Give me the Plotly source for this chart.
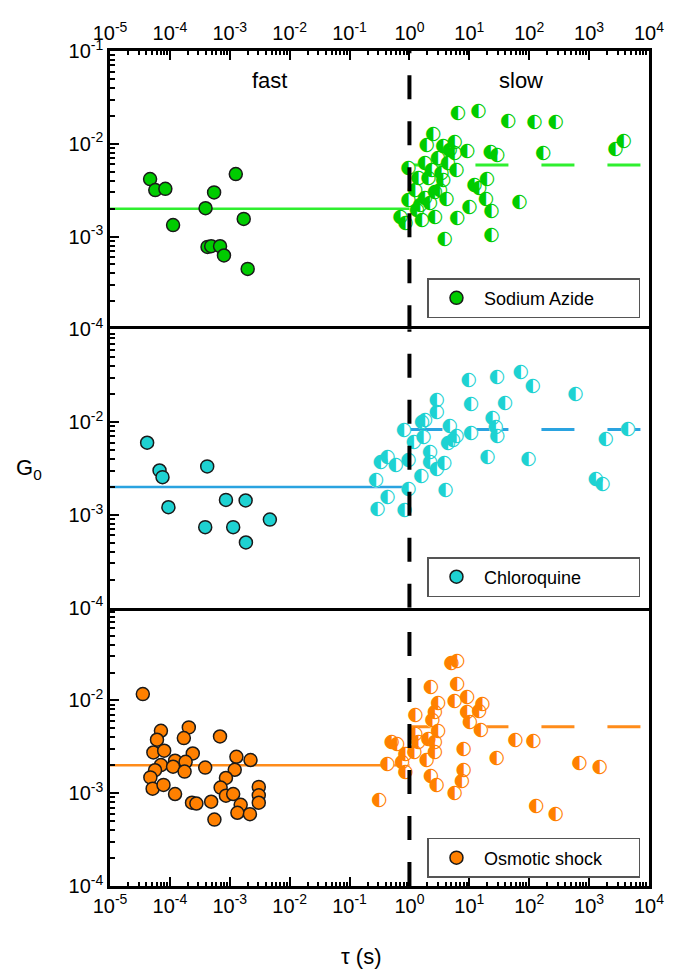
import plotly.graph_objects as go
from plotly.subplots import make_subplots

# ---------------- data ----------------
# Sodium Azide
sa_fast_tau = [4.67e-5, 5.7e-5, 8.4e-5, 1.13e-4, 3.94e-4, 5.47e-4, 1.26e-3, 1.71e-3,
               4.25e-4, 4.89e-4, 6.88e-4, 8.0e-4, 1.99e-3]
sa_fast_g0 = [4.16e-3, 3.17e-3, 3.27e-3, 1.33e-3, 2.02e-3, 2.99e-3, 4.71e-3, 1.55e-3,
              7.74e-4, 7.87e-4, 7.87e-4, 6.25e-4, 4.48e-4]
sa_slow_tau = [6.47, 14.2, 44.6, 122.7, 279, 2.51, 5.71, 3805, 2770, 1.95, 3.67, 5.71,
               9.23, 22.9, 29.4, 172.6, 0.97, 1.83, 2.36, 3.45, 4.43, 6.09, 1.42, 2.08,
               3.67, 12.2, 14.7, 19.7, 0.97, 1.52, 2.21, 2.68, 4.17, 10.1, 19.0, 23.4,
               68.7, 0.71, 0.86, 1.62, 2.68, 6.32, 3.91, 23.4, 1.34, 1.83, 3.0, 4.72,
               1.25, 3.24]
sa_slow_g0 = [0.0216, 0.0225, 0.0173, 0.0172, 0.0170, 0.0127, 0.0105, 0.0107, 8.7e-3,
              9.7e-3, 9.3e-3, 7.9e-3, 8.4e-3, 8.1e-3, 7.55e-3, 8.0e-3, 5.4e-3, 6.15e-3,
              5.2e-3, 4.8e-3, 6.15e-3, 5.2e-3, 4.23e-3, 4.23e-3, 4.06e-3, 3.58e-3,
              3.30e-3, 4.13e-3, 2.47e-3, 2.18e-3, 2.27e-3, 3.03e-3, 2.51e-3, 2.06e-3,
              2.51e-3, 1.89e-3, 2.37e-3, 1.61e-3, 1.38e-3, 1.50e-3, 1.63e-3, 1.59e-3,
              9.4e-4, 1.03e-3, 1.93e-3, 2.58e-3, 7.0e-3, 8.55e-3, 3.16e-3, 3.16e-3]
sa_fast_mean = 2.0e-3
sa_slow_mean = 5.9e-3

# Chloroquine
cq_fast_tau = [4.17e-5, 6.72e-5, 7.53e-5, 9.45e-5, 4.2e-4, 8.63e-4, 1.84e-3, 4.67e-3,
               3.89e-4, 1.14e-3, 1.86e-3]
cq_fast_g0 = [6.0e-3, 3.01e-3, 2.55e-3, 1.21e-3, 3.33e-3, 1.45e-3, 1.43e-3, 8.9e-4,
              7.37e-4, 7.37e-4, 5.04e-4]
cq_slow_tau = [29.1, 72.2, 115, 595, 9.8, 2.85, 10.7, 39.4, 2.85, 24.4, 1.83, 1.62, 0.81,
               4.73, 10.7, 27.7, 29.4, 4480, 1.72, 1.18, 6.09, 5.35, 4.43, 1897, 2.21,
               20.2, 97.8, 0.97, 2.21, 2.85, 3.81, 0.43, 0.333, 0.59, 1.57, 0.276, 0.97,
               4.01, 1298, 1675, 0.43, 0.294, 0.83]
cq_slow_g0 = [0.0303, 0.0344, 0.0243, 0.0202, 0.0282, 0.0171, 0.0155, 0.0158, 0.0128,
              0.0111, 0.0104, 0.0100, 8.1e-3, 9.0e-3, 7.6e-3, 8.7e-3, 7.0e-3, 8.4e-3,
              6.9e-3, 6.1e-3, 7.0e-3, 6.35e-3, 5.85e-3, 6.46e-3, 4.75e-3, 4.13e-3,
              3.93e-3, 3.86e-3, 3.70e-3, 3.14e-3, 3.56e-3, 4.19e-3, 3.70e-3, 3.41e-3,
              2.61e-3, 2.35e-3, 1.91e-3, 1.83e-3, 2.43e-3, 2.13e-3, 1.53e-3, 1.16e-3,
              1.13e-3]
cq_fast_mean = 2.0e-3
cq_slow_mean = 8.3e-3

# Osmotic shock
os_fast_tau = [3.53e-5, 7.09e-5, 2.07e-4, 6.09e-5, 1.71e-4, 6.87e-4, 5.3e-5, 8.03e-5,
               2.41e-4, 1.22e-4, 1.83e-4, 7.09e-5, 1.13e-4, 3.89e-4, 1.29e-3, 2.22e-3,
               5.65e-5, 1.76e-4, 1.21e-3, 4.72e-5, 8.63e-4, 5.15e-5, 7.82e-5, 7.03e-4,
               1.22e-4, 8.63e-4, 1.14e-3, 3.05e-3, 3.05e-3, 3.05e-3, 2.34e-4, 2.77e-4,
               4.89e-4, 1.52e-3, 1.34e-3, 2.17e-3, 5.54e-4]
os_fast_g0 = [0.0117, 4.71e-3, 5.12e-3, 3.77e-3, 3.93e-3, 4.09e-3, 2.75e-3, 2.87e-3,
              2.68e-3, 2.24e-3, 2.18e-3, 2.01e-3, 1.93e-3, 1.89e-3, 2.47e-3, 2.28e-3,
              1.77e-3, 1.71e-3, 1.79e-3, 1.48e-3, 1.46e-3, 1.12e-3, 1.23e-3, 1.15e-3,
              9.8e-4, 9.4e-4, 9.8e-4, 1.17e-3, 9.5e-4, 7.9e-4, 7.9e-4, 7.74e-4,
              8.1e-4, 7.5e-4, 6.15e-4, 5.95e-4, 5.2e-4]
os_slow_tau = [5.04, 6.32, 2.30, 6.32, 3.03, 5.71, 9.23, 16.7, 14.7, 9.23, 2.68, 1.26,
               2.42, 10.3, 15.7, 3.03, 1.26, 2.08, 1.42, 0.506, 0.628, 2.68, 2.68, 0.86,
               1.22, 59.1, 118, 8.12, 28.8, 1.95, 0.76, 0.43, 0.86, 692, 1511, 2.30,
               8.12, 2.85, 7.53, 5.71, 0.313, 131, 279]
os_slow_g0 = [0.0251, 0.0264, 0.0138, 0.0150, 9.3e-3, 9.7e-3, 0.0108, 9.0e-3, 7.74e-3,
              7.55e-3, 7.43e-3, 7.0e-3, 6.04e-3, 5.79e-3, 4.80e-3, 4.71e-3, 4.34e-3,
              3.83e-3, 3.52e-3, 3.52e-3, 3.39e-3, 3.52e-3, 2.75e-3, 2.64e-3, 2.75e-3,
              3.74e-3, 3.61e-3, 2.99e-3, 2.37e-3, 2.28e-3, 2.14e-3, 2.06e-3, 1.67e-3,
              2.09e-3, 1.89e-3, 1.54e-3, 1.77e-3, 1.23e-3, 1.36e-3, 9.9e-4, 8.4e-4,
              7.31e-4, 5.95e-4]
os_fast_mean = 2.0e-3
os_slow_mean = 5.2e-3

# regime boundaries on the tau axis
fast_span = [1e-5, 1.0]
slow_span = [1.0, 1e4]
boundary_tau = 1.0
g0_span = [1e-4, 1e-1]

x_tick_exp = list(range(-5, 5))
y_tick_exp = [-4, -3, -2, -1]

# ---------------- figure ----------------
FONT = "Liberation Sans, Arial, sans-serif"
fig = make_subplots(rows=3, cols=1, shared_xaxes=True, vertical_spacing=0)

panels = [
    dict(name="Sodium Azide", ft=sa_fast_tau, fg=sa_fast_g0, st=sa_slow_tau, sg=sa_slow_g0,
         fm=sa_fast_mean, sm=sa_slow_mean, mcolor="#00cc00", lcolor="#2fef2f", legend="legend"),
    dict(name="Chloroquine", ft=cq_fast_tau, fg=cq_fast_g0, st=cq_slow_tau, sg=cq_slow_g0,
         fm=cq_fast_mean, sm=cq_slow_mean, mcolor="#1ed2d2", lcolor="#2aa3e0", legend="legend2"),
    dict(name="Osmotic shock", ft=os_fast_tau, fg=os_fast_g0, st=os_slow_tau, sg=os_slow_g0,
         fm=os_fast_mean, sm=os_slow_mean, mcolor="#ff8000", lcolor="#ff8c1a", legend="legend3"),
]

for row, p in enumerate(panels, start=1):
    # mean level of each regime
    fig.add_trace(go.Scatter(x=fast_span, y=[p["fm"]] * 2, mode="lines",
                             line=dict(color=p["lcolor"], width=2.5),
                             showlegend=False, hoverinfo="skip"), row=row, col=1)
    fig.add_trace(go.Scatter(x=slow_span, y=[p["sm"]] * 2, mode="lines",
                             line=dict(color=p["lcolor"], width=3, dash="33px,33px"),
                             showlegend=False, hoverinfo="skip"), row=row, col=1)
    # slow regime: half-filled circles
    fig.add_trace(go.Scatter(x=p["st"], y=p["sg"], mode="markers+text",
                             marker=dict(symbol="circle", size=14, color="white"),
                             text=["\u25D0"] * len(p["st"]), textposition="middle center",
                             textfont=dict(family="DejaVu Sans", size=19, color=p["mcolor"]),
                             showlegend=False), row=row, col=1)
    # fast regime: filled circles
    fig.add_trace(go.Scatter(x=p["ft"], y=p["fg"], mode="markers", name=p["name"],
                             marker=dict(symbol="circle", size=13, color=p["mcolor"],
                                         line=dict(color="#1a1a1a", width=1.5)),
                             legend=p["legend"], showlegend=True), row=row, col=1)
    # boundary between regimes
    fig.add_trace(go.Scatter(x=[boundary_tau, boundary_tau], y=g0_span, mode="lines",
                             line=dict(color="black", width=4, dash="24px,22px"),
                             showlegend=False, hoverinfo="skip"), row=row, col=1)

x_minor = [m * 10.0 ** e for e in range(-5, 4) for m in range(2, 10)]
y_minor = [m * 10.0 ** e for e in range(-4, -1) for m in range(2, 10)]

x_common = dict(type="log", range=[-5, 4], showline=True, linewidth=2.5, linecolor="black",
                showgrid=False, zeroline=False,
                tickmode="array", tickvals=[10.0 ** e for e in x_tick_exp],
                ticktext=["10<sup>%d</sup>" % e for e in x_tick_exp],
                tickfont=dict(family=FONT, size=20, color="black"))
x_minor_ticks = dict(ticks="inside", ticklen=4, tickwidth=1.5, tickcolor="black",
                     tickmode="array", tickvals=x_minor, showgrid=False)

fig.update_xaxes(**x_common)
# top frame with labels; the inner frame lines come from the middle panel
fig.update_xaxes(row=1, col=1, side="top", mirror=False, showticklabels=True, ticks="inside",
                 ticklen=9, tickwidth=2, tickcolor="black", minor=x_minor_ticks)
fig.update_xaxes(row=2, col=1, mirror=True, showticklabels=False, ticks="")
fig.update_xaxes(row=3, col=1, side="bottom", mirror=False, showticklabels=True,
                 ticks="inside", ticklen=9, tickwidth=2, tickcolor="black",
                 minor=x_minor_ticks)

for row in (1, 2, 3):
    exps = y_tick_exp if row == 1 else y_tick_exp[:-1]
    fig.update_yaxes(row=row, col=1, type="log", range=[-4, -1], showline=True, linewidth=2.5,
                     linecolor="black", mirror=True, showgrid=False, zeroline=False,
                     ticks="inside", ticklen=9, tickwidth=2, tickcolor="black",
                     tickmode="array", tickvals=[10.0 ** e for e in exps],
                     ticktext=["10<sup>%d</sup>" % e for e in exps],
                     tickfont=dict(family=FONT, size=20, color="black"),
                     minor=dict(ticks="inside", ticklen=5, tickwidth=1.5, tickcolor="black",
                                tickmode="array", tickvals=y_minor, showgrid=False))

legend_style = dict(x=0.589, xanchor="left", yanchor="top", bgcolor="white",
                    orientation="h", bordercolor="#555555", borderwidth=1.5,
                    entrywidth=150, entrywidthmode="pixels", itemwidth=45,
                    font=dict(family=FONT, size=18, color="black"))

fig.update_layout(
    width=676, height=970,
    margin=dict(l=110, r=19, t=51, b=84),
    paper_bgcolor="white", plot_bgcolor="white",
    font=dict(family=FONT, color="black"),
    legend=dict(y=0.728, **legend_style),
    legend2=dict(y=0.394, **legend_style),
    legend3=dict(y=0.0575, **legend_style),
    annotations=[
        dict(text="fast", x=0.295, y=0.965, xref="paper", yref="paper", showarrow=False,
             xanchor="center", yanchor="middle", font=dict(family=FONT, size=22)),
        dict(text="slow", x=0.762, y=0.965, xref="paper", yref="paper", showarrow=False,
             xanchor="center", yanchor="middle", font=dict(family=FONT, size=22)),
        dict(text="G<sub>0</sub>", x=-0.15, y=0.5, xref="paper", yref="paper",
             showarrow=False, xanchor="center", yanchor="middle",
             font=dict(family=FONT, size=22)),
        dict(text="\u03C4 (s)", x=0.466, y=-0.085, xref="paper", yref="paper",
             showarrow=False, xanchor="center", yanchor="middle",
             font=dict(family=FONT, size=22)),
    ],
)

fig.write_html("out.html")
